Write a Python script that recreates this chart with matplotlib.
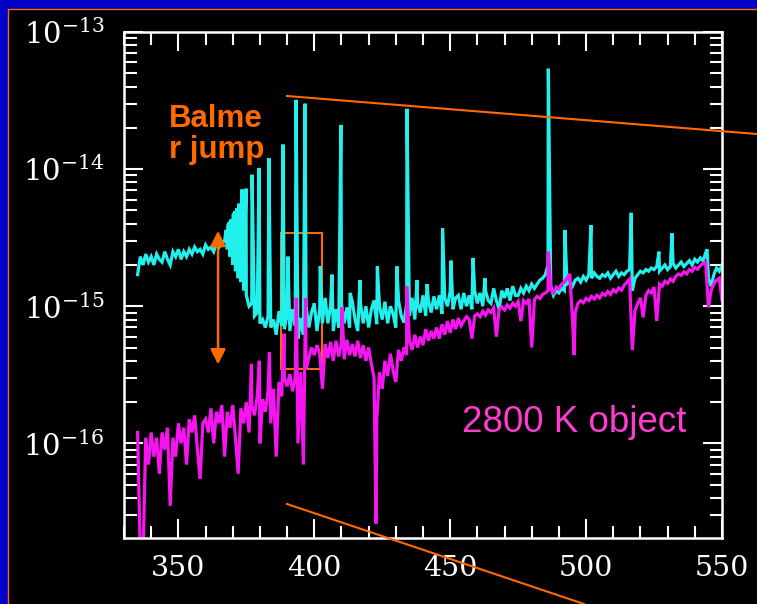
import matplotlib

matplotlib.use("Agg")
import matplotlib.pyplot as plt
import numpy as np
from matplotlib.lines import Line2D
from matplotlib.patches import Rectangle
from matplotlib.ticker import FixedLocator, LogLocator, NullFormatter

plt.rcParams["mathtext.fontset"] = "dejavuserif"

ORANGE = "#ff6a00"
CYAN = "#22f0ec"
MAGENTA = "#f614f0"
LABEL_PINK = "#ff3cd0"

# spectra sampled on a 1 nm grid, flux in units of 1e-15
grid = np.arange(335, 551)

cyan_flux = [
    1.7, 2.3, 2.0, 2.4, 2.1, 2.3, 2.0, 2.4, 2.2, 2.1,
    2.5, 2.2, 2.0, 2.5, 2.3, 2.6, 2.2, 2.5, 2.3, 2.6,
    2.4, 2.7, 2.5, 2.6, 2.4, 2.8, 2.6, 2.7, 2.5, 2.9,
    2.7, 2.9, 3.0, 2.6, 2.3, 2.0, 1.8, 1.6, 1.5, 1.3,
    1.2, 1.0, 1.05, 0.85, 0.9, 0.75, 0.8, 0.7, 0.85, 0.7,
    0.8, 0.62, 0.92, 0.72, 0.68, 0.88, 0.66, 0.95, 0.72, 0.58,
    0.82, 0.62, 1.0, 0.7, 0.9, 1.05, 0.66, 0.95, 0.75, 1.15,
    0.75, 1.0, 0.66, 0.95, 0.7, 1.05, 0.75, 0.98, 0.7, 1.08,
    0.8, 0.66, 1.05, 0.75, 1.0, 0.7, 0.95, 1.1, 0.74, 1.0,
    0.8, 1.08, 0.75, 1.0, 0.88, 0.7, 1.1, 0.85, 0.76, 1.05,
    0.85, 1.15, 0.8, 1.05, 0.9, 1.2, 0.85, 1.1, 0.9, 1.18,
    0.95, 1.2, 0.88, 1.15, 1.0, 1.28, 0.95, 1.15, 1.2, 0.95,
    1.25, 1.0, 1.2, 0.95, 1.3, 1.05, 1.25, 1.0, 1.3, 1.1,
    1.05, 1.35, 1.1, 0.95, 1.3, 1.15, 1.35, 1.1, 1.4, 1.2,
    1.2, 1.35, 1.25, 1.4, 1.3, 1.45, 1.35, 1.45, 1.55, 1.6,
    1.7, 2.0, 1.4, 1.2, 1.3, 1.25, 1.35, 1.3, 1.45, 1.5,
    1.4, 1.55, 1.6, 1.5, 1.65, 1.55, 1.7, 1.6, 1.75, 1.65,
    1.6, 1.7, 1.65, 1.75, 1.6, 1.7, 1.8, 1.65, 1.75, 1.7,
    1.8, 1.85, 1.3, 1.6, 1.7, 1.8, 1.75, 1.85, 1.8, 1.9,
    1.85, 1.95, 1.8, 1.9, 2.0, 1.85, 1.95, 2.05, 1.9, 2.0,
    2.1, 1.95, 2.05, 2.15, 2.0, 2.2, 2.1, 2.25, 2.15, 2.45,
    1.6, 1.4, 1.7, 1.9, 1.8, 2.0,
]

# emission lines on top of the hot continuum
cyan_line_wl = [367.6, 368.2, 368.8, 369.4, 370.1, 370.8, 371.5, 372.3, 373.4,
                374.9, 377.1, 379.7, 383.3, 388.5, 390.3, 393.3, 396.6, 402.2,
                406.5, 409.8, 413.2, 416.8, 423.2, 430.4, 434.1, 437.8, 441.5,
                447.2, 450.3, 458.4, 462.8, 486.1, 492.2, 501.8, 516.6, 526.8,
                531.6, 544.5]
cyan_line_flux = [3.6, 3.9, 4.1, 4.3, 4.6, 4.9, 5.2, 5.6, 7.1,
                  7.2, 9.1, 10.2, 12.0, 15.1, 2.3, 32.0, 30.0, 1.96,
                  1.7, 21.0, 1.25, 1.55, 1.95, 1.95, 27.5, 1.55, 1.45,
                  3.7, 2.15, 2.25, 1.6, 54.0, 3.6, 3.9, 4.8, 2.5,
                  3.4, 2.6]

magenta_flux = [
    0.12, 0.015, 0.015, 0.11, 0.07, 0.12, 0.08, 0.11, 0.06, 0.12,
    0.09, 0.13, 0.035, 0.11, 0.08, 0.14, 0.10, 0.13, 0.07, 0.15,
    0.12, 0.16, 0.09, 0.055, 0.14, 0.15, 0.12, 0.18, 0.10, 0.17,
    0.14, 0.19, 0.08, 0.17, 0.13, 0.19, 0.11, 0.06, 0.18, 0.14,
    0.20, 0.12, 0.19, 0.16, 0.22, 0.10, 0.21, 0.17, 0.24, 0.14,
    0.25, 0.08, 0.28, 0.22, 0.30, 0.26, 0.32, 0.24, 0.30, 0.10,
    0.33, 0.07, 0.35, 0.42, 0.50, 0.44, 0.52, 0.45, 0.25, 0.53,
    0.42, 0.55, 0.40, 0.56, 0.43, 0.54, 0.41, 0.57, 0.44, 0.53,
    0.43, 0.56, 0.42, 0.52, 0.40, 0.50, 0.38, 0.30, 0.15, 0.33,
    0.25, 0.40, 0.31, 0.45, 0.34, 0.28, 0.48, 0.40, 0.50, 0.44,
    0.56, 0.48, 0.62, 0.50, 0.60, 0.52, 0.68, 0.56, 0.66, 0.58,
    0.70, 0.58, 0.74, 0.62, 0.78, 0.64, 0.80, 0.68, 0.82, 0.72,
    0.78, 0.84, 0.80, 0.58, 0.85, 0.88, 0.84, 0.92, 0.86, 0.94,
    0.90, 0.97, 0.60, 0.95, 0.99, 0.94, 1.02, 0.97, 1.05, 1.00,
    1.08, 0.78, 1.10, 1.05, 1.13, 0.50, 1.12, 1.18, 1.14, 1.22,
    1.25, 1.30, 1.32, 1.25, 1.38, 1.34, 1.45, 1.50, 1.60, 1.72,
    0.80, 0.90, 1.05, 1.10, 1.06, 1.14, 1.10, 1.18, 1.13, 1.20,
    1.15, 1.24, 1.20, 1.28, 1.22, 1.32, 1.27, 1.36, 1.31, 1.42,
    1.50, 1.58, 0.48, 0.93, 1.05, 1.15, 0.83, 1.20, 1.30, 1.25,
    1.38, 0.78, 1.45, 1.40, 1.52, 1.47, 1.58, 1.52, 1.65, 1.72,
    1.68, 1.78, 1.72, 1.85, 1.80, 1.92, 1.86, 1.97, 2.05, 2.10,
    0.98, 1.30, 1.46, 1.55, 1.60, 1.10,
]

# narrow features of the cool object (emission cores and the deep dips)
magenta_line_wl = [376.9, 379.8, 383.5, 388.9, 393.4, 396.8, 410.2, 422.7,
                   434.0, 486.1, 495.6]
magenta_line_flux = [0.38, 0.40, 0.46, 0.63, 1.15, 1.15, 0.98, 0.026,
                     1.4, 2.5, 0.44]

x_ticks = [350, 400, 450, 500, 550]
y_ticks = [1e-16, 1e-15, 1e-14, 1e-13]
y_tick_labels = [r"$10^{-16}$", r"$10^{-15}$", r"$10^{-14}$", r"$10^{-13}$"]


def merged(base, line_wl, line_flux):
    wl = np.concatenate([grid, line_wl])
    fx = np.concatenate([base, line_flux]) * 1e-15
    order = np.argsort(wl)
    return wl[order], fx[order]


W, H = 757, 604
fig = plt.figure(figsize=(W / 100, H / 100), dpi=100, facecolor="#0000c8")

# black slide panel with thin orange rim, kept behind the axes
fig.add_artist(Rectangle((8 / W, -0.05), 1.1, 1 - 9 / H + 0.05,
                         transform=fig.transFigure, facecolor="black",
                         edgecolor=ORANGE, lw=1.0, zorder=-5))

ax = fig.add_axes([124 / W, 1 - 538 / H, (722 - 124) / W, (538 - 32) / H])
ax.set_facecolor("black")

wl, fx = merged(cyan_flux, cyan_line_wl, cyan_line_flux)
ax.plot(wl, fx, color=CYAN, lw=2.3, solid_joinstyle="miter")
wl, fx = merged(magenta_flux, magenta_line_wl, magenta_line_flux)
ax.plot(wl, fx, color=MAGENTA, lw=2.3, solid_joinstyle="miter")

ax.set_yscale("log")
ax.set_xlim(330, 550)
ax.set_ylim(2.04e-17, 1e-13)

ax.xaxis.set_major_locator(FixedLocator(x_ticks))
ax.xaxis.set_minor_locator(FixedLocator(np.arange(330, 551, 10)))
ax.set_yticks(y_ticks, y_tick_labels)
ax.yaxis.set_minor_locator(LogLocator(base=10, subs=np.arange(2, 10)))
ax.yaxis.set_minor_formatter(NullFormatter())

ax.tick_params(which="both", direction="in", colors="white", width=1.5,
               top=True, right=True)
ax.tick_params(which="major", length=14)
ax.tick_params(which="minor", length=9)
ax.tick_params(axis="x", pad=12, labelsize=20.5)
ax.tick_params(axis="y", pad=14, labelsize=21)
for lab in ax.get_xticklabels() + ax.get_yticklabels():
    lab.set_fontfamily("DejaVu Serif")
for sp in ax.spines.values():
    sp.set_color("white")
    sp.set_linewidth(1.8)

# Balmer jump markers
ax.annotate("", xy=(364.6, 3.76e-16), xytext=(364.6, 3.55e-15),
            arrowprops=dict(arrowstyle="<|-|>,head_length=0.9,head_width=0.45",
                            color=ORANGE, lw=1.8, shrinkA=0, shrinkB=0))
ax.add_patch(Rectangle((387.8, 3.46e-16), 15.0, 3.42e-15 - 3.46e-16,
                       fill=False, edgecolor=ORANGE, lw=1.5))

# zoom guide lines running off the panel
for (x0, y0), (x1, y1) in [((287, 96), (757, 134)), ((287, 504), (584, 604))]:
    fig.add_artist(Line2D([x0 / W, x1 / W], [1 - y0 / H, 1 - y1 / H],
                          transform=fig.transFigure, color=ORANGE, lw=1.5,
                          zorder=5))

fig.text(169 / W, 1 - 158 / H, "Balme\nr jump", color=ORANGE, fontsize=22.5,
         fontweight="bold", family="Liberation Sans", va="baseline",
         linespacing=1.05, zorder=5)
fig.text(462 / W, 1 - 432 / H, "2800 K object", color=LABEL_PINK,
         fontsize=26.5, family="Liberation Sans", va="baseline", zorder=5)

fig.savefig("out.png", dpi=100, facecolor=fig.get_facecolor())
